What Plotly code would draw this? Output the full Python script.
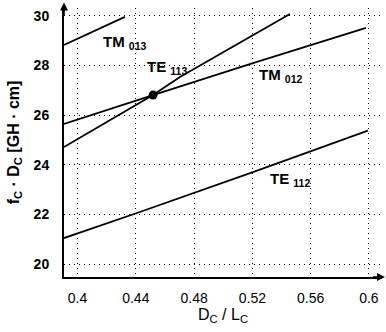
import plotly.graph_objects as go

# ---- data ----
x_tm013 = [0.3907, 0.4325]
y_tm013 = [28.83, 29.96]

x_te113 = [0.3907, 0.4518, 0.4703, 0.5458]
y_te113 = [24.72, 26.81, 27.54, 30.08]

x_tm012 = [0.3907, 0.4011, 0.4518, 0.5204, 0.5980]
y_tm012 = [25.65, 25.85, 26.81, 28.10, 29.52]

x_te112 = [0.3907, 0.4408, 0.5204, 0.5993]
y_te112 = [21.05, 22.06, 23.71, 25.38]

x_cross = [0.4518]
y_cross = [26.81]

x_ticks = [0.4, 0.44, 0.48, 0.52, 0.56, 0.6]
x_tick_text = ["0.4", "0.44", "0.48", "0.52", "0.56", "0.6"]
y_ticks = [20, 22, 24, 26, 28, 30]
y_tick_text = ["20", "22", "24", "26", "28", "30"]

labels = [
    ("TM <sub>013</sub>", 0.4161, 28.95),
    ("TE <sub>113</sub>", 0.4463, 27.94),
    ("TM <sub>012</sub>", 0.5232, 27.62),
    ("TE <sub>112</sub>", 0.5307, 23.39),
]

FONT = "Liberation Sans, Arial, sans-serif"

fig = go.Figure()
line_style = dict(color="black", width=1.8)
for xs, ys in [(x_tm013, y_tm013), (x_te113, y_te113), (x_tm012, y_tm012), (x_te112, y_te112)]:
    fig.add_trace(go.Scatter(x=xs, y=ys, mode="lines", line=line_style, showlegend=False, hoverinfo="skip"))

fig.add_trace(go.Scatter(x=x_cross, y=y_cross, mode="markers",
                         marker=dict(color="black", size=9), showlegend=False))

for text, lx, ly in labels:
    fig.add_annotation(x=lx, y=ly, text=text, showarrow=False, xanchor="left", yanchor="middle",
                       font=dict(family=FONT, size=15, color="black", weight="bold"))

# axis arrows
fig.add_annotation(xref="paper", yref="paper", x=0, y=1.02, ax=0, ay=14,
                   showarrow=True, arrowhead=2, arrowsize=1, arrowwidth=1.6, arrowcolor="black", text="")
fig.add_annotation(xref="paper", yref="paper", x=1.01, y=0, ax=-14, ay=0,
                   showarrow=True, arrowhead=2, arrowsize=1, arrowwidth=1.6, arrowcolor="black", text="")

fig.update_xaxes(range=[0.3907, 0.6090], tickvals=x_ticks, ticktext=x_tick_text,
                 showgrid=True, gridcolor="black", griddash="1px,4px", gridwidth=1,
                 showline=True, linecolor="black", linewidth=2, zeroline=False,
                 ticks="", ticklabelstandoff=7, ticklabeloverflow="allow",
                 tickfont=dict(family=FONT, size=14, color="black"),
                 title=dict(text="D<sub>C</sub> / L<sub>C</sub>", standoff=0,
                            font=dict(family=FONT, size=16, color="black")))
fig.update_yaxes(range=[19.48, 30.32], tickvals=y_ticks, ticktext=y_tick_text,
                 showgrid=True, gridcolor="black", griddash="1px,4px", gridwidth=1,
                 showline=True, linecolor="black", linewidth=2, zeroline=False,
                 ticks="", ticklabelstandoff=10, ticklabeloverflow="allow",
                 tickfont=dict(family=FONT, size=14, color="black", weight="bold"),
                 title=dict(text="f<sub>C</sub> · D<sub>C</sub> [GH · cm]", standoff=10,
                            font=dict(family=FONT, size=16, color="black", weight="bold")))

fig.update_layout(width=386, height=332, margin=dict(l=64, r=4, t=8, b=55),
                  plot_bgcolor="white", paper_bgcolor="white")

fig.write_html("out.html", config={"displayModeBar": False},
               post_script="document.body.style.margin='0';document.body.style.overflow='hidden';")
